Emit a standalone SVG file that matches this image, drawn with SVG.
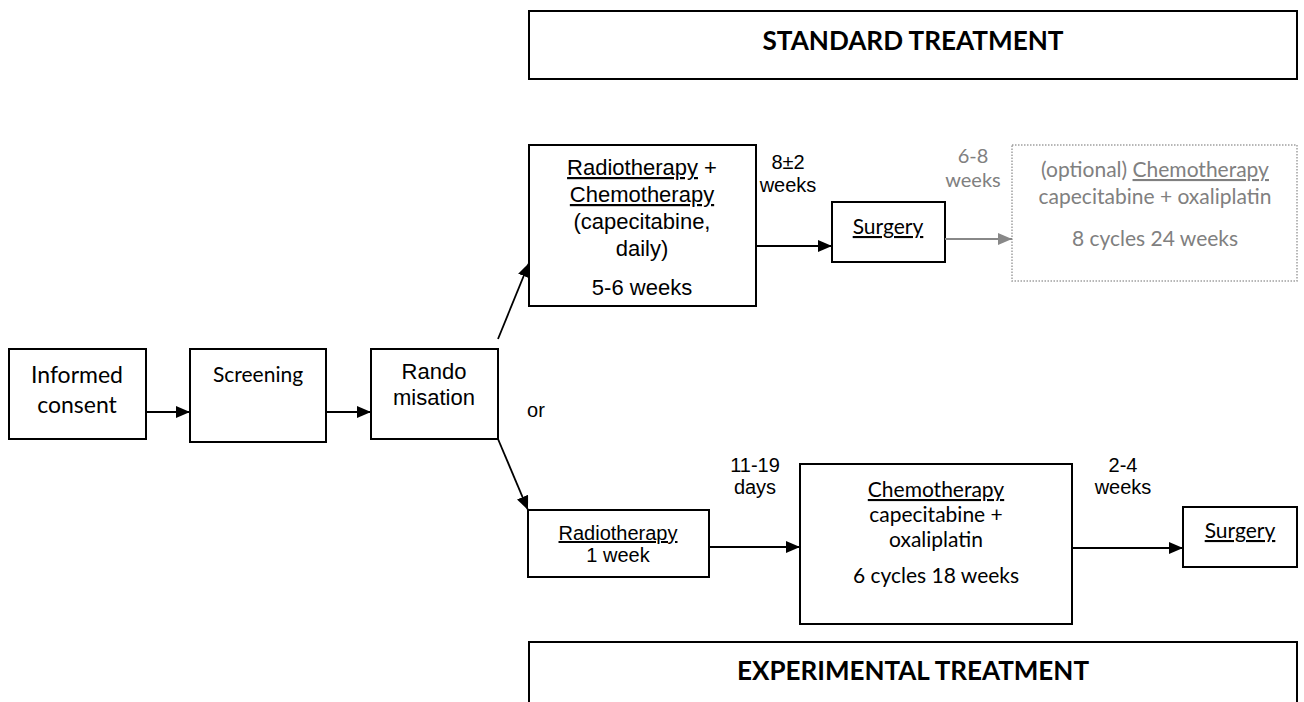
<svg xmlns="http://www.w3.org/2000/svg" width="1304" height="702" viewBox="0 0 1304 702">
<style>
.box{fill:#fff;stroke:#000;stroke-width:2}
.dot{fill:none;stroke:#a0a0a0;stroke-width:1.5;stroke-dasharray:1.5 1.5}
.ar{font-family:"Liberation Sans",Arial,sans-serif;fill:#000;text-anchor:middle}
.ca{font-family:Lato,"Open Sans",sans-serif;fill:#000;text-anchor:middle}
.gr{fill:#808080}
.hd{font-family:Lato,"Open Sans",sans-serif;font-weight:bold;fill:#000;text-anchor:middle;font-size:27px}
.u{text-decoration:underline}
.ln{fill:none;stroke:#000;stroke-width:1.8}
.lg{fill:none;stroke:#888;stroke-width:1.8}
</style>
<defs>
<marker id="ab" markerUnits="userSpaceOnUse" markerWidth="14" markerHeight="12" viewBox="0 0 14 12" refX="14" refY="6" orient="auto">
<path d="M0,0 L14,6 L0,12 Z" fill="#000"/>
</marker>
<marker id="ag" markerUnits="userSpaceOnUse" markerWidth="14" markerHeight="12" viewBox="0 0 14 12" refX="14" refY="6" orient="auto">
<path d="M0,0 L14,6 L0,12 Z" fill="#888"/>
</marker>
</defs>

<g id="standard-header">
<rect class="box" x="529" y="11" width="768" height="68"/>
<text class="hd" x="913" y="50" textLength="301" lengthAdjust="spacingAndGlyphs">STANDARD TREATMENT</text>
</g>

<g id="experimental-header">
<rect class="box" x="529" y="642" width="768" height="80"/>
<text class="hd" x="913" y="680" textLength="352" lengthAdjust="spacingAndGlyphs">EXPERIMENTAL TREATMENT</text>
</g>

<g id="informed-consent">
<rect class="box" x="9" y="349" width="137" height="90"/>
<text class="ca" font-size="23"><tspan x="77" y="383">Informed</tspan><tspan x="77" y="413">consent</tspan></text>
</g>

<g id="screening">
<rect class="box" x="190" y="349" width="136" height="93"/>
<text class="ca" x="258" y="382" font-size="21">Screening</text>
</g>

<g id="randomisation">
<rect class="box" x="371" y="349" width="127" height="90"/>
<text class="ar" font-size="22"><tspan x="434" y="379">Rando</tspan><tspan x="434" y="405">misation</tspan></text>
</g>

<g id="or-label">
<text class="ar" x="536" y="417" font-size="20">or</text>
</g>

<g id="radio-chemo">
<rect class="box" x="529" y="145" width="227" height="161"/>
<text class="ar" font-size="22"><tspan x="642" y="175"><tspan class="u">Radiotherapy</tspan> +</tspan><tspan x="642" y="202" class="u">Chemotherapy</tspan><tspan x="642" y="229">(capecitabine,</tspan><tspan x="642" y="256">daily)</tspan><tspan x="642" y="295">5-6 weeks</tspan></text>
</g>

<g id="surgery-standard">
<rect class="box" x="832" y="202" width="113" height="60"/>
<text class="ca" x="888" y="234" font-size="21"><tspan class="u">Surgery</tspan></text>
</g>

<g id="optional-chemo">
<rect class="dot" x="1012" y="145" width="285" height="136"/>
<text class="ca gr" font-size="21"><tspan x="1155" y="177">(optional) <tspan class="u">Chemotherapy</tspan></tspan><tspan x="1155" y="204">capecitabine + oxaliplatin</tspan><tspan x="1155" y="246">8 cycles 24 weeks</tspan></text>
</g>

<g id="radiotherapy-1week">
<rect class="box" x="528" y="510" width="181" height="67"/>
<text class="ar" font-size="20"><tspan x="618" y="540" class="u">Radiotherapy</tspan><tspan x="618" y="562">1 week</tspan></text>
</g>

<g id="chemo-experimental">
<rect class="box" x="800" y="464" width="272" height="160"/>
<text class="ca" font-size="21"><tspan x="936" y="497" class="u">Chemotherapy</tspan><tspan x="936" y="522">capecitabine +</tspan><tspan x="936" y="547">oxaliplatin</tspan><tspan x="936" y="583">6 cycles 18 weeks</tspan></text>
</g>

<g id="surgery-experimental">
<rect class="box" x="1183" y="507" width="114" height="60"/>
<text class="ca" x="1240" y="538" font-size="21"><tspan class="u">Surgery</tspan></text>
</g>

<g id="connectors">
<line class="ln" x1="146" y1="412" x2="190" y2="412" marker-end="url(#ab)"/>
<line class="ln" x1="326" y1="412" x2="371" y2="412" marker-end="url(#ab)"/>
<line class="ln" x1="498" y1="339" x2="529" y2="263" marker-end="url(#ab)"/>
<line class="ln" x1="498" y1="439" x2="528" y2="510" marker-end="url(#ab)"/>
<line class="ln" x1="756" y1="246" x2="832" y2="246" marker-end="url(#ab)"/>
<line class="lg" x1="945" y1="239" x2="1012" y2="239" marker-end="url(#ag)"/>
<line class="ln" x1="709" y1="547" x2="800" y2="547" marker-end="url(#ab)"/>
<line class="ln" x1="1072" y1="548" x2="1183" y2="548" marker-end="url(#ab)"/>
</g>

<g id="labels">
<text class="ar" font-size="20"><tspan x="788" y="169">8±2</tspan><tspan x="788" y="192">weeks</tspan></text>
<text class="ca gr" font-size="20"><tspan x="973" y="163">6-8</tspan><tspan x="973" y="187">weeks</tspan></text>
<text class="ar" font-size="20"><tspan x="755" y="472">11-19</tspan><tspan x="755" y="494">days</tspan></text>
<text class="ar" font-size="20"><tspan x="1123" y="472">2-4</tspan><tspan x="1123" y="494">weeks</tspan></text>
</g>
</svg>
